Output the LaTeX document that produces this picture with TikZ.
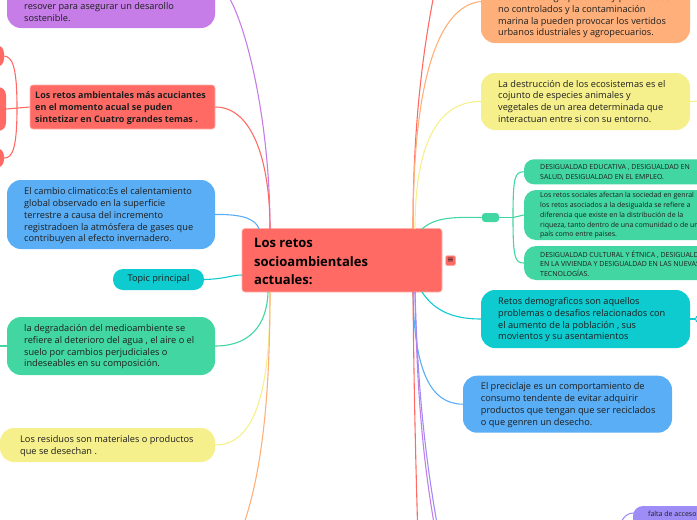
\documentclass[tikz,border=0pt]{standalone}
\usepackage{fontspec}
\setmainfont{Open Sans}
\newfontfamily\symfont{DejaVu Sans}
\definecolor{cpurple}{RGB}{198,125,232}
\definecolor{cred}{RGB}{255,107,100}
\definecolor{cblue}{RGB}{90,174,245}
\definecolor{cteal}{RGB}{14,203,208}
\definecolor{cgreen}{RGB}{66,214,162}
\definecolor{cyellow}{RGB}{246,240,140}
\definecolor{corange}{RGB}{255,176,122}
\definecolor{clav}{RGB}{159,141,247}
\definecolor{ctext}{RGB}{30,30,30}
\definecolor{cborder}{RGB}{255,175,170}
\begin{document}
\begin{tikzpicture}[x=1pt,y=-1pt,
  box/.style={rounded corners=14pt, inner sep=0pt, draw=none},
  txt/.style={font=\fontsize{9.2}{11.8}\selectfont, text=ctext, align=left, inner sep=0pt, anchor=west},
  smalltxt/.style={font=\fontsize{7}{9.9}\selectfont, text=ctext, align=left, inner sep=0pt, anchor=west},
  link/.style={line width=1.1pt}]
\useasboundingbox (0,0) rectangle (697,520);
\clip (0,0) rectangle (697,520);

% ---------- left side boxes ----------
\node[box, fill=cpurple, minimum width=208pt, minimum height=88pt] (pbox) at (111,-16) {};
\node[txt] (pboxt) at (24,11.7) {resover para asegurar un desarollo\\sostenible.};

\node[box, rounded corners=3pt, fill=cred, draw=cborder, line width=0.6pt, minimum width=185pt, minimum height=44pt] (rbox) at (122.5,107) {};
\node[txt, font=\fontsize{9}{12}\selectfont\bfseries] (rboxt) at (35,108) {Los retos ambientales más acuciantes\\en el momento acual se puden\\sintetizar en Cuatro grandes temas .};

\node[box, rounded corners=8pt, fill=cred, minimum width=24pt, minimum height=22pt] (rblobA) at (-8,56) {};
\node[box, rounded corners=8pt, fill=cred, minimum width=26pt, minimum height=44pt] (rblobB) at (-7,109) {};
\node[box, rounded corners=8pt, fill=cred, minimum width=24pt, minimum height=20pt] (rblobC) at (-8,158) {};

\node[box, fill=cblue, minimum width=208pt, minimum height=69pt] (bboxL) at (111,214.5) {};
\node[txt] (bboxLt) at (24,216) {El cambio climatico:Es el calentamiento\\global observado en la superficie\\terrestre a causa del incremento\\registradoen la atmósfera de gases que\\contribuyen al efecto invernadero.};

\node[box, rounded corners=10pt, fill=cteal, minimum width=91pt, minimum height=21pt, font=\fontsize{9.2}{11.8}\selectfont, text=ctext] (topic) at (158.5,279.5) {Topic principal};

\node[box, fill=cgreen, minimum width=208pt, minimum height=58pt] (gboxL) at (111,346) {};
\node[txt] (gboxLt) at (24,346.7) {la degradación del medioambiente se\\refiere al deterioro del agua , el aire o el\\suelo por cambios perjudiciales o\\indeseables en su composición.};

\node[box, fill=cyellow, minimum width=215pt, minimum height=34pt] (yboxL) at (107.5,445) {};
\node[txt] (yboxLt) at (20,446) {Los residuos son materiales o productos\\que se desechan .};

% ---------- central ----------
\node[box, rounded corners=3pt, fill=cred, draw=cborder, line width=0.6pt, minimum width=200pt, minimum height=63.5pt] (central) at (342,260.25) {};
\node[txt, font=\fontsize{13}{18.3}\selectfont\bfseries, text=black] (centralt) at (254,261.5) {Los retos\\socioambientales\\actuales:};
\node[box, rounded corners=1.5pt, fill=cred, draw=cborder, line width=0.4pt, minimum width=10pt, minimum height=10pt, font=\symfont\fontsize{8}{8}\selectfont, text=ctext] (icon) at (450.5,260.5) {≡};

% ---------- right side boxes ----------
\node[box, fill=corange, minimum width=209pt, minimum height=83pt] (obox) at (585.5,1.5) {};
\node[txt] (oboxt) at (498,15.8) {actividades agropecuarias y por vertidos\\no controlados y la contaminación\\marina la pueden provocar los vertidos\\urbanos idustriales y agropecuarios.};

\node[box, fill=cyellow, minimum width=209pt, minimum height=57pt] (yboxR) at (585.5,101.5) {};
\node[txt] (yboxRt) at (498,101.3) {La destrucción de los ecosistemas es el\\cojunto de especies animales y\\vegetales de un area determinada que\\interactuan entre si con su entorno.};

\node[box, rounded corners=3pt, fill=cgreen, minimum width=17pt, minimum height=9pt] (gsmall) at (490.5,217.5) {};

\node[box, rounded corners=10pt, fill=cgreen, minimum width=216pt, minimum height=25pt] (g1) at (632,171.8) {};
\node[smalltxt] (g1t) at (540,172.3) {DESIGUALDAD EDUCATIVA , DESIGUALDAD EN\\SALUD, DESIGUALDAD EN EL EMPLEO.};
\node[box, rounded corners=12pt, fill=cgreen, minimum width=216pt, minimum height=50pt] (g2) at (632,215) {};
\node[smalltxt, font=\fontsize{7}{9.8}\selectfont] (g2t) at (540,215.5) {Los retos sociales afectan la sociedad en genral\\los retos asociados a la desigualda se refiere a\\diferencia que existe en la distribución de la\\riqueza, tanto dentro de una comunidad o de un\\país como entre paises.};
\node[box, rounded corners=12pt, fill=cgreen, minimum width=216pt, minimum height=34pt] (g3) at (632,263) {};
\node[smalltxt] (g3t) at (540,263.7) {DESIGUALDAD CULTURAL Y ÉTNICA , DESIGUALDAD\\EN LA VIVIENDA Y DESIGUALDAD EN LAS NUEVAS\\TECNOLOGÍAS.};

\node[box, fill=cteal, minimum width=209pt, minimum height=58pt] (tboxR) at (585.5,319) {};
\node[txt] (tboxRt) at (498,319.7) {Retos demograficos son aquellos\\problemas o desafios relacionados con\\el aumento de la población , sus\\movientos y su asentamientos};

\node[box, fill=cblue, minimum width=209pt, minimum height=57pt] (bboxR) at (567.5,404.2) {};
\node[txt] (bboxRt) at (480.7,405) {El preciclaje es un comportamiento de\\consumo tendente de evitar adquirir\\productos que tengan que ser reciclados\\o que genren un desecho.};

\node[box, rounded corners=10pt, fill=clav, minimum width=127pt, minimum height=34pt] (lbox) at (696.5,523) {};
\node[smalltxt] (lboxt) at (648,514.3) {falta de acceso};

\node[circle, draw=cteal, fill=white, line width=1pt, minimum size=7pt, inner sep=0pt] (tring) at (699,319) {};

% ---------- connector coordinates ----------
\coordinate (hLT) at (270,229);
\coordinate (hLB2) at (259,229);
\coordinate (hW) at (242,275);
\coordinate (hLB) at (268,292);
\coordinate (hLB2b) at (270,292);
\coordinate (hRT) at (413,229);
\coordinate (hRT2) at (415,229);
\coordinate (hRT3) at (422,229);
\coordinate (hRB) at (413,292);
\coordinate (hRB2) at (415,292);
\coordinate (hRB3) at (422,292);
\coordinate (oB) at (238,540);
\coordinate (rT) at (438,-25);
\coordinate (rB) at (418,540);
\coordinate (pB) at (437,540);
\coordinate (lB) at (440,540);
\coordinate (lvIn) at (618,528);
\coordinate (lvEnd) at (634,513);
\coordinate (rsp) at (17,108);
\coordinate (gsp) at (513,217.5);
\coordinate (gLout) at (-5,346);
\coordinate (yRout) at (700,101);

% ---------- left connectors ----------
\draw[link, cpurple] (pbox.east) .. controls (236,-16) and (270,100) .. (hLT);
\draw[link, cred] (rbox.east) .. controls (252,107) and (270,160) .. (hLT);
\draw[link, cblue] (bboxL.east) .. controls (245,214) and (256,220) .. (hLB2);
\draw[link, cteal] (topic.east) .. controls (225,279) and (232,275) .. (hW);
\draw[link, cgreen] (gboxL.east) .. controls (250,346) and (267,325) .. (hLB);
\draw[link, cyellow] (yboxL.east) .. controls (262,445) and (270,370) .. (hLB2b);
\draw[link, corange] (hLB2b) .. controls (270,420) and (258,490) .. (oB);

\draw[link, cred] (rbox.west) -- (rblobB.east);
\draw[link, cred] (rsp) .. controls (17,65) and (12,57) .. (rblobA.east);
\draw[link, cred] (rsp) .. controls (17,150) and (12,158) .. (rblobC.east);
\draw[link, cgreen] (gboxL.west) -- (gLout);

% ---------- right connectors ----------
\draw[link, cred] (hRT) .. controls (413,120) and (424,40) .. (rT);
\draw[link, corange] (hRT) .. controls (413,60) and (445,5) .. (obox.west);
\draw[link, cyellow] (hRT2) .. controls (415,140) and (440,101) .. (yboxR.west);
\draw[link, cgreen] (hRT3) .. controls (435,217) and (455,217) .. (gsmall.west);
\draw[link, cteal] (hRB3) .. controls (435,312) and (455,319) .. (tboxR.west);
\draw[link, cblue] (hRB) .. controls (414,370) and (430,404) .. (bboxR.west);
\draw[link, cred] (hRB) .. controls (414,400) and (416,470) .. (rB);
\draw[link, cpurple] (hRB2) .. controls (417,400) and (424,470) .. (pB);
\draw[link, clav] (hRB2) .. controls (418,400) and (427,470) .. (lB);
\draw[link, clav] (lvIn) .. controls (624,515) and (628,513) .. (lvEnd);

\draw[link, cgreen] (gsmall.east) -- (gsp);
\draw[link, cgreen] (gsp) .. controls (513,176) and (515,172) .. (g1.west);
\draw[link, cgreen] (gsp) -- (g2.west);
\draw[link, cgreen] (gsp) .. controls (513,258) and (515,263) .. (g3.west);
\draw[link, cyellow] (yboxR.east) -- (yRout);
\draw[link, cteal] (tboxR.east) -- (tring);
\end{tikzpicture}
\end{document}
